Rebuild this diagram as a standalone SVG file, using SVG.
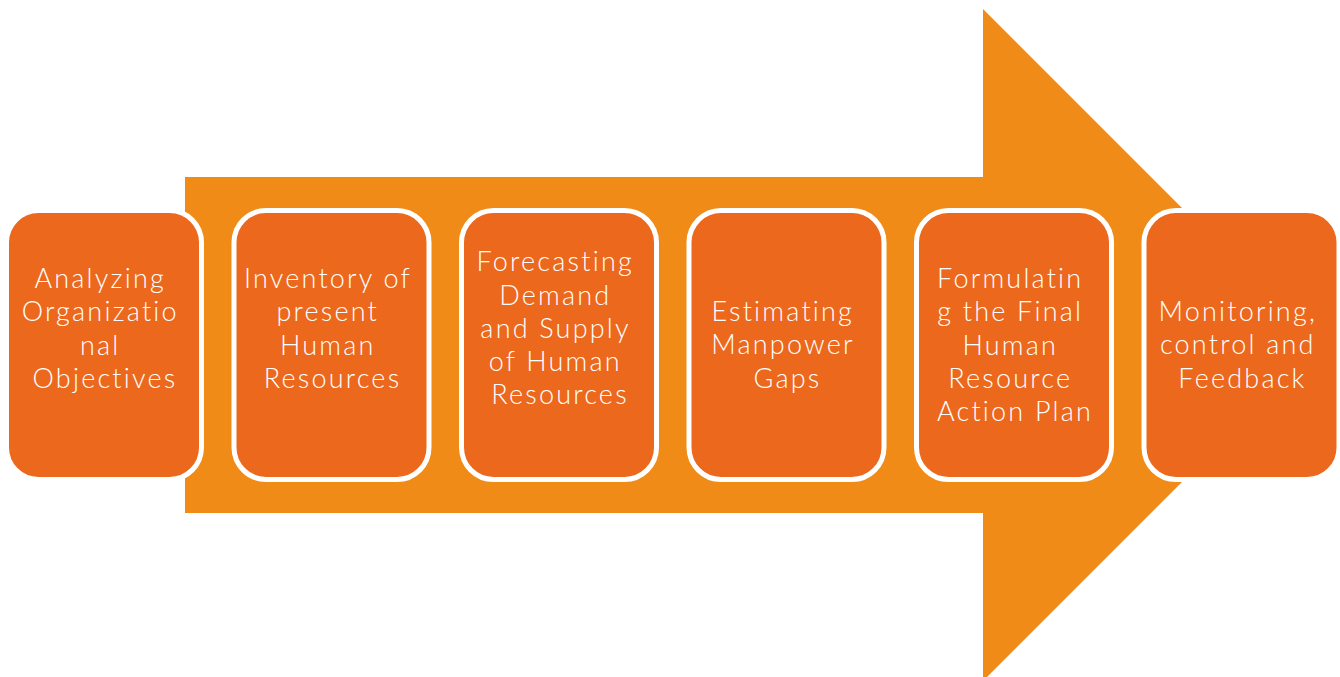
<svg xmlns="http://www.w3.org/2000/svg" width="1340" height="677" viewBox="0 0 1340 677">
  <style>
    .step { fill: #EC681D; stroke: #FFFFFF; stroke-width: 5; }
    .label { font-family: Lato, "Liberation Sans", sans-serif; font-weight: 300; font-size: 27px; fill: #FFFFFF; text-anchor: middle; letter-spacing: 2.2px; }
  </style>
  <rect width="1340" height="677" fill="#FFFFFF"/>

  <!-- Background block arrow -->
  <g id="connectors">
    <polygon points="185,177 983,177 983,9 1319,345 983,681 983,513 185,513" fill="#F18B17"/>
  </g>

  <g id="step1">
    <rect class="step" x="6.5" y="210.5" width="195" height="269" rx="32"/>
    <text class="label">
      <tspan x="105" y="288">Analyzing</tspan>
      <tspan x="105" y="321">Organizatio</tspan>
      <tspan x="105" y="355">nal</tspan>
      <tspan x="105" y="388">Objectives</tspan>
    </text>
  </g>

  <g id="step2">
    <rect class="step" x="234" y="210.5" width="195" height="269" rx="32"/>
    <text class="label">
      <tspan x="332.5" y="288">Inventory of</tspan>
      <tspan x="332.5" y="321">present</tspan>
      <tspan x="332.5" y="355">Human</tspan>
      <tspan x="332.5" y="388">Resources</tspan>
    </text>
  </g>

  <g id="step3">
    <rect class="step" x="461.5" y="210.5" width="195" height="269" rx="32"/>
    <text class="label">
      <tspan x="560" y="271">Forecasting</tspan>
      <tspan x="560" y="305">Demand</tspan>
      <tspan x="560" y="338">and Supply</tspan>
      <tspan x="560" y="371">of Human</tspan>
      <tspan x="560" y="404">Resources</tspan>
    </text>
  </g>

  <g id="step4">
    <rect class="step" x="689" y="210.5" width="195" height="269" rx="32"/>
    <text class="label">
      <tspan x="787.5" y="321">Estimating</tspan>
      <tspan x="787.5" y="354">Manpower</tspan>
      <tspan x="787.5" y="388">Gaps</tspan>
    </text>
  </g>

  <g id="step5">
    <rect class="step" x="916.5" y="210.5" width="195" height="269" rx="32"/>
    <text class="label">
      <tspan x="1015" y="288">Formulatin</tspan>
      <tspan x="1015" y="321">g the Final</tspan>
      <tspan x="1015" y="355">Human</tspan>
      <tspan x="1015" y="388">Resource</tspan>
      <tspan x="1015" y="421">Action Plan</tspan>
    </text>
  </g>

  <g id="step6">
    <rect class="step" x="1144" y="210.5" width="195" height="269" rx="32"/>
    <text class="label">
      <tspan x="1242.5" y="321">Monitoring,</tspan>
      <tspan x="1242.5" y="354">control and</tspan>
      <tspan x="1242.5" y="388">Feedback</tspan>
    </text>
  </g>
</svg>
